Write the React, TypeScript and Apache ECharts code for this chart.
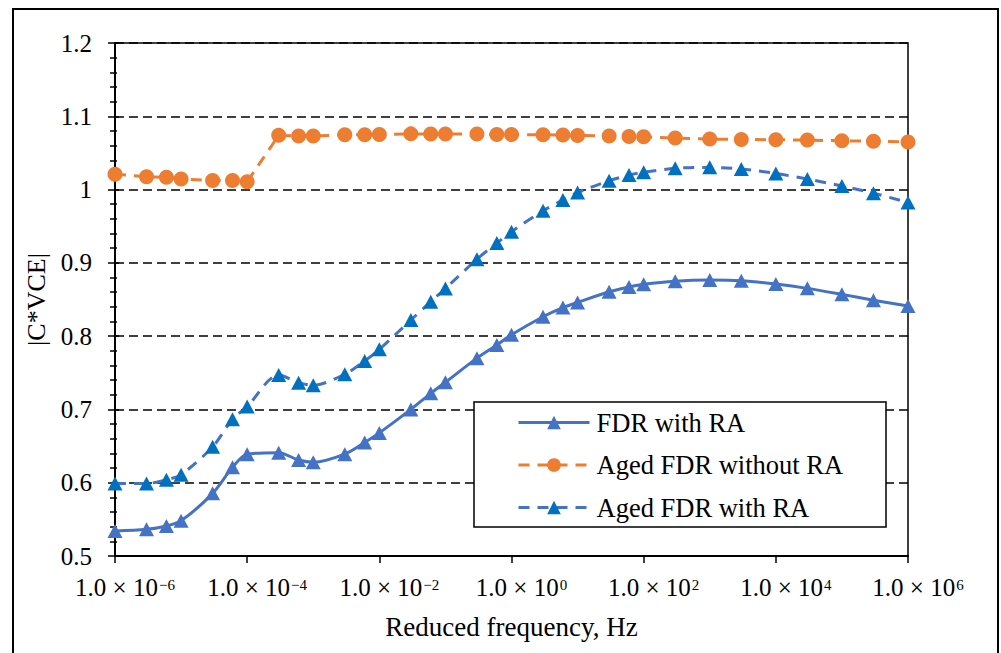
import React, { useEffect, useRef } from "react";
import * as echarts from "echarts";

const freqs = [
  1e-6, 3e-6, 6e-6, 1e-5, 3e-5, 6e-5, 1e-4, 3e-4, 6e-4, 1e-3, 3e-3, 6e-3, 1e-2,
  3e-2, 6e-2, 1e-1, 3e-1, 6e-1, 1, 3, 6, 10, 30, 60, 100, 300, 1e3, 3e3, 1e4,
  3e4, 1e5, 3e5, 1e6,
];

const fdrWithRA = [
  0.534, 0.5364, 0.541, 0.548, 0.5855, 0.621, 0.639, 0.641, 0.631, 0.628, 0.639,
  0.655, 0.668, 0.7, 0.722, 0.737, 0.77, 0.788, 0.802, 0.8265, 0.839, 0.846,
  0.8606, 0.867, 0.8707, 0.875, 0.8765, 0.8756, 0.871, 0.8652, 0.857, 0.849,
  0.841,
];

const agedWithoutRA = [
  1.021, 1.0175, 1.0167, 1.0143, 1.0125, 1.0125, 1.0107, 1.074, 1.073, 1.073,
  1.0748, 1.0748, 1.075, 1.076, 1.0757, 1.0757, 1.0757, 1.075, 1.075, 1.0748,
  1.0743, 1.0739, 1.073, 1.0725, 1.072, 1.0703, 1.0689, 1.0684, 1.068, 1.0675,
  1.0666, 1.066, 1.0648,
];

const agedWithRA = [
  0.599, 0.599, 0.604, 0.611, 0.649, 0.6865, 0.704, 0.747, 0.7365, 0.733, 0.748,
  0.766, 0.782, 0.822, 0.847, 0.865, 0.905, 0.927, 0.9425, 0.971, 0.9857, 0.996,
  1.012, 1.0198, 1.0235, 1.029, 1.0303, 1.028, 1.022, 1.0143, 1.005, 0.995,
  0.9825,
];

const seriesNames = ["FDR with RA", "Aged FDR without RA", "Aged FDR with RA"];
const xAxisTitle = "Reduced frequency, Hz";
const yAxisTitle = "|C*VCE|";

export default function App() {
  const ref = useRef<HTMLDivElement>(null);
  useEffect(() => {
    if (!ref.current) return;
    const chart = echarts.init(ref.current, null, { renderer: "svg" });
    const font = "'Liberation Serif', 'Times New Roman', serif";
    const pairs = (vals: number[]) =>
      freqs.map((f, i) => [Math.log10(f), vals[i]]);
    const yCommon = {
      type: "value",
      min: 0.5,
      max: 1.2,
      interval: 0.1,
    };
    chart.setOption({
      animation: false,
      backgroundColor: "#fff",
      textStyle: { fontFamily: font, color: "#000" },
      grid: {
        left: 115,
        top: 43,
        right: 93,
        bottom: 97,
        show: true,
        borderColor: "#000",
        borderWidth: 1.5,
        backgroundColor: "transparent",
      },
      xAxis: {
        type: "value",
        min: -6,
        max: 6,
        interval: 2,
        name: xAxisTitle,
        nameLocation: "middle",
        nameGap: 57,
        nameTextStyle: { fontSize: 27, fontFamily: font, color: "#000" },
        axisLine: { onZero: false, lineStyle: { color: "#000", width: 2 } },
        axisTick: { length: 7, lineStyle: { color: "#000", width: 1.5 } },
        splitLine: { show: false },
        axisLabel: {
          margin: 17,
          formatter: (v: number) => {
            const e = Math.round(v);
            const s = e < 0 ? "\u2212" + -e : String(e);
            return "{p|}{b|1.0 \u00d7 10}{s|" + s + "}";
          },
          rich: {
            p: { width: 20, fontSize: 25, lineHeight: 28 },
            b: { fontSize: 25, fontFamily: font, color: "#000", lineHeight: 28 },
            s: {
              fontSize: 15,
              fontFamily: font,
              color: "#000",
              verticalAlign: "top",
              lineHeight: 15,
              padding: [4, 0, 0, 1],
            },
          },
        },
      },
      yAxis: [
        {
          ...yCommon,
          name: yAxisTitle,
          nameLocation: "middle",
          nameGap: 62,
          nameTextStyle: { fontSize: 26, fontFamily: font, color: "#000" },
          axisLine: { show: true, onZero: false, lineStyle: { color: "#000", width: 2 } },
          axisTick: { show: true, length: 7, lineStyle: { color: "#000", width: 1.5 } },
          minorTick: {
            show: true,
            splitNumber: 5,
            length: 5,
            lineStyle: { color: "#000", width: 1.5 },
          },
          axisLabel: { fontSize: 25, fontFamily: font, color: "#000", margin: 23 },
          splitLine: {
            show: true,
            lineStyle: { color: "#000", width: 1.5, type: [9, 5] },
          },
        },
        {
          ...yCommon,
          position: "left",
          axisLine: { show: false, onZero: false },
          axisLabel: { show: false },
          splitLine: { show: false },
          axisTick: { show: true, inside: true, length: 4, lineStyle: { color: "#000", width: 1.5 } },
          minorTick: {
            show: true,
            splitNumber: 5,
            length: 2,
            lineStyle: { color: "#000", width: 1.5 },
          },
        },
      ],
      legend: {
        orient: "vertical",
        left: 517,
        top: 409,
        itemWidth: 71,
        itemHeight: 17,
        itemGap: 15.5,
        padding: 0,
        lineStyle: { width: 3 },
        textStyle: {
          fontSize: 26.5,
          lineHeight: 27,
          fontFamily: font,
          color: "#000",
          padding: [0, 0, 0, 2],
        },
        data: seriesNames,
      },
      graphic: [
        {
          type: "rect",
          silent: true,
          z: 3,
          shape: { x: 474, y: 402, width: 412, height: 125 },
          style: { fill: "#fff", stroke: "#000", lineWidth: 1.5 },
        },
        {
          type: "rect",
          silent: true,
          z: 10,
          shape: { x: 13, y: 9, width: 985, height: 660 },
          style: { fill: "none", stroke: "#000", lineWidth: 2 },
        },
      ],
      series: [
        {
          name: seriesNames[0],
          type: "line",
          data: pairs(fdrWithRA),
          smooth: 0.3,
          symbol: "triangle",
          symbolSize: [15, 14],
          itemStyle: { color: "#4472C4" },
          lineStyle: { color: "#4472C4", width: 3 },
          z: 2,
        },
        {
          name: seriesNames[1],
          type: "line",
          data: pairs(agedWithoutRA),
          smooth: false,
          symbol: "circle",
          symbolSize: 15,
          itemStyle: { color: "#ED7D31" },
          lineStyle: { color: "#ED7D31", width: 3, type: [11, 8] },
          z: 2,
        },
        {
          name: seriesNames[2],
          type: "line",
          data: pairs(agedWithRA),
          smooth: 0.3,
          symbol: "triangle",
          symbolSize: [15, 14],
          itemStyle: { color: "#0070C0" },
          lineStyle: { color: "#4472C4", width: 3, type: [11, 8] },
          z: 2,
        },
      ],
    });
    return () => chart.dispose();
  }, []);
  return (
    <div
      ref={ref}
      style={{ position: "fixed", left: 0, top: 0, width: 1001, height: 653 }}
    />
  );
}
